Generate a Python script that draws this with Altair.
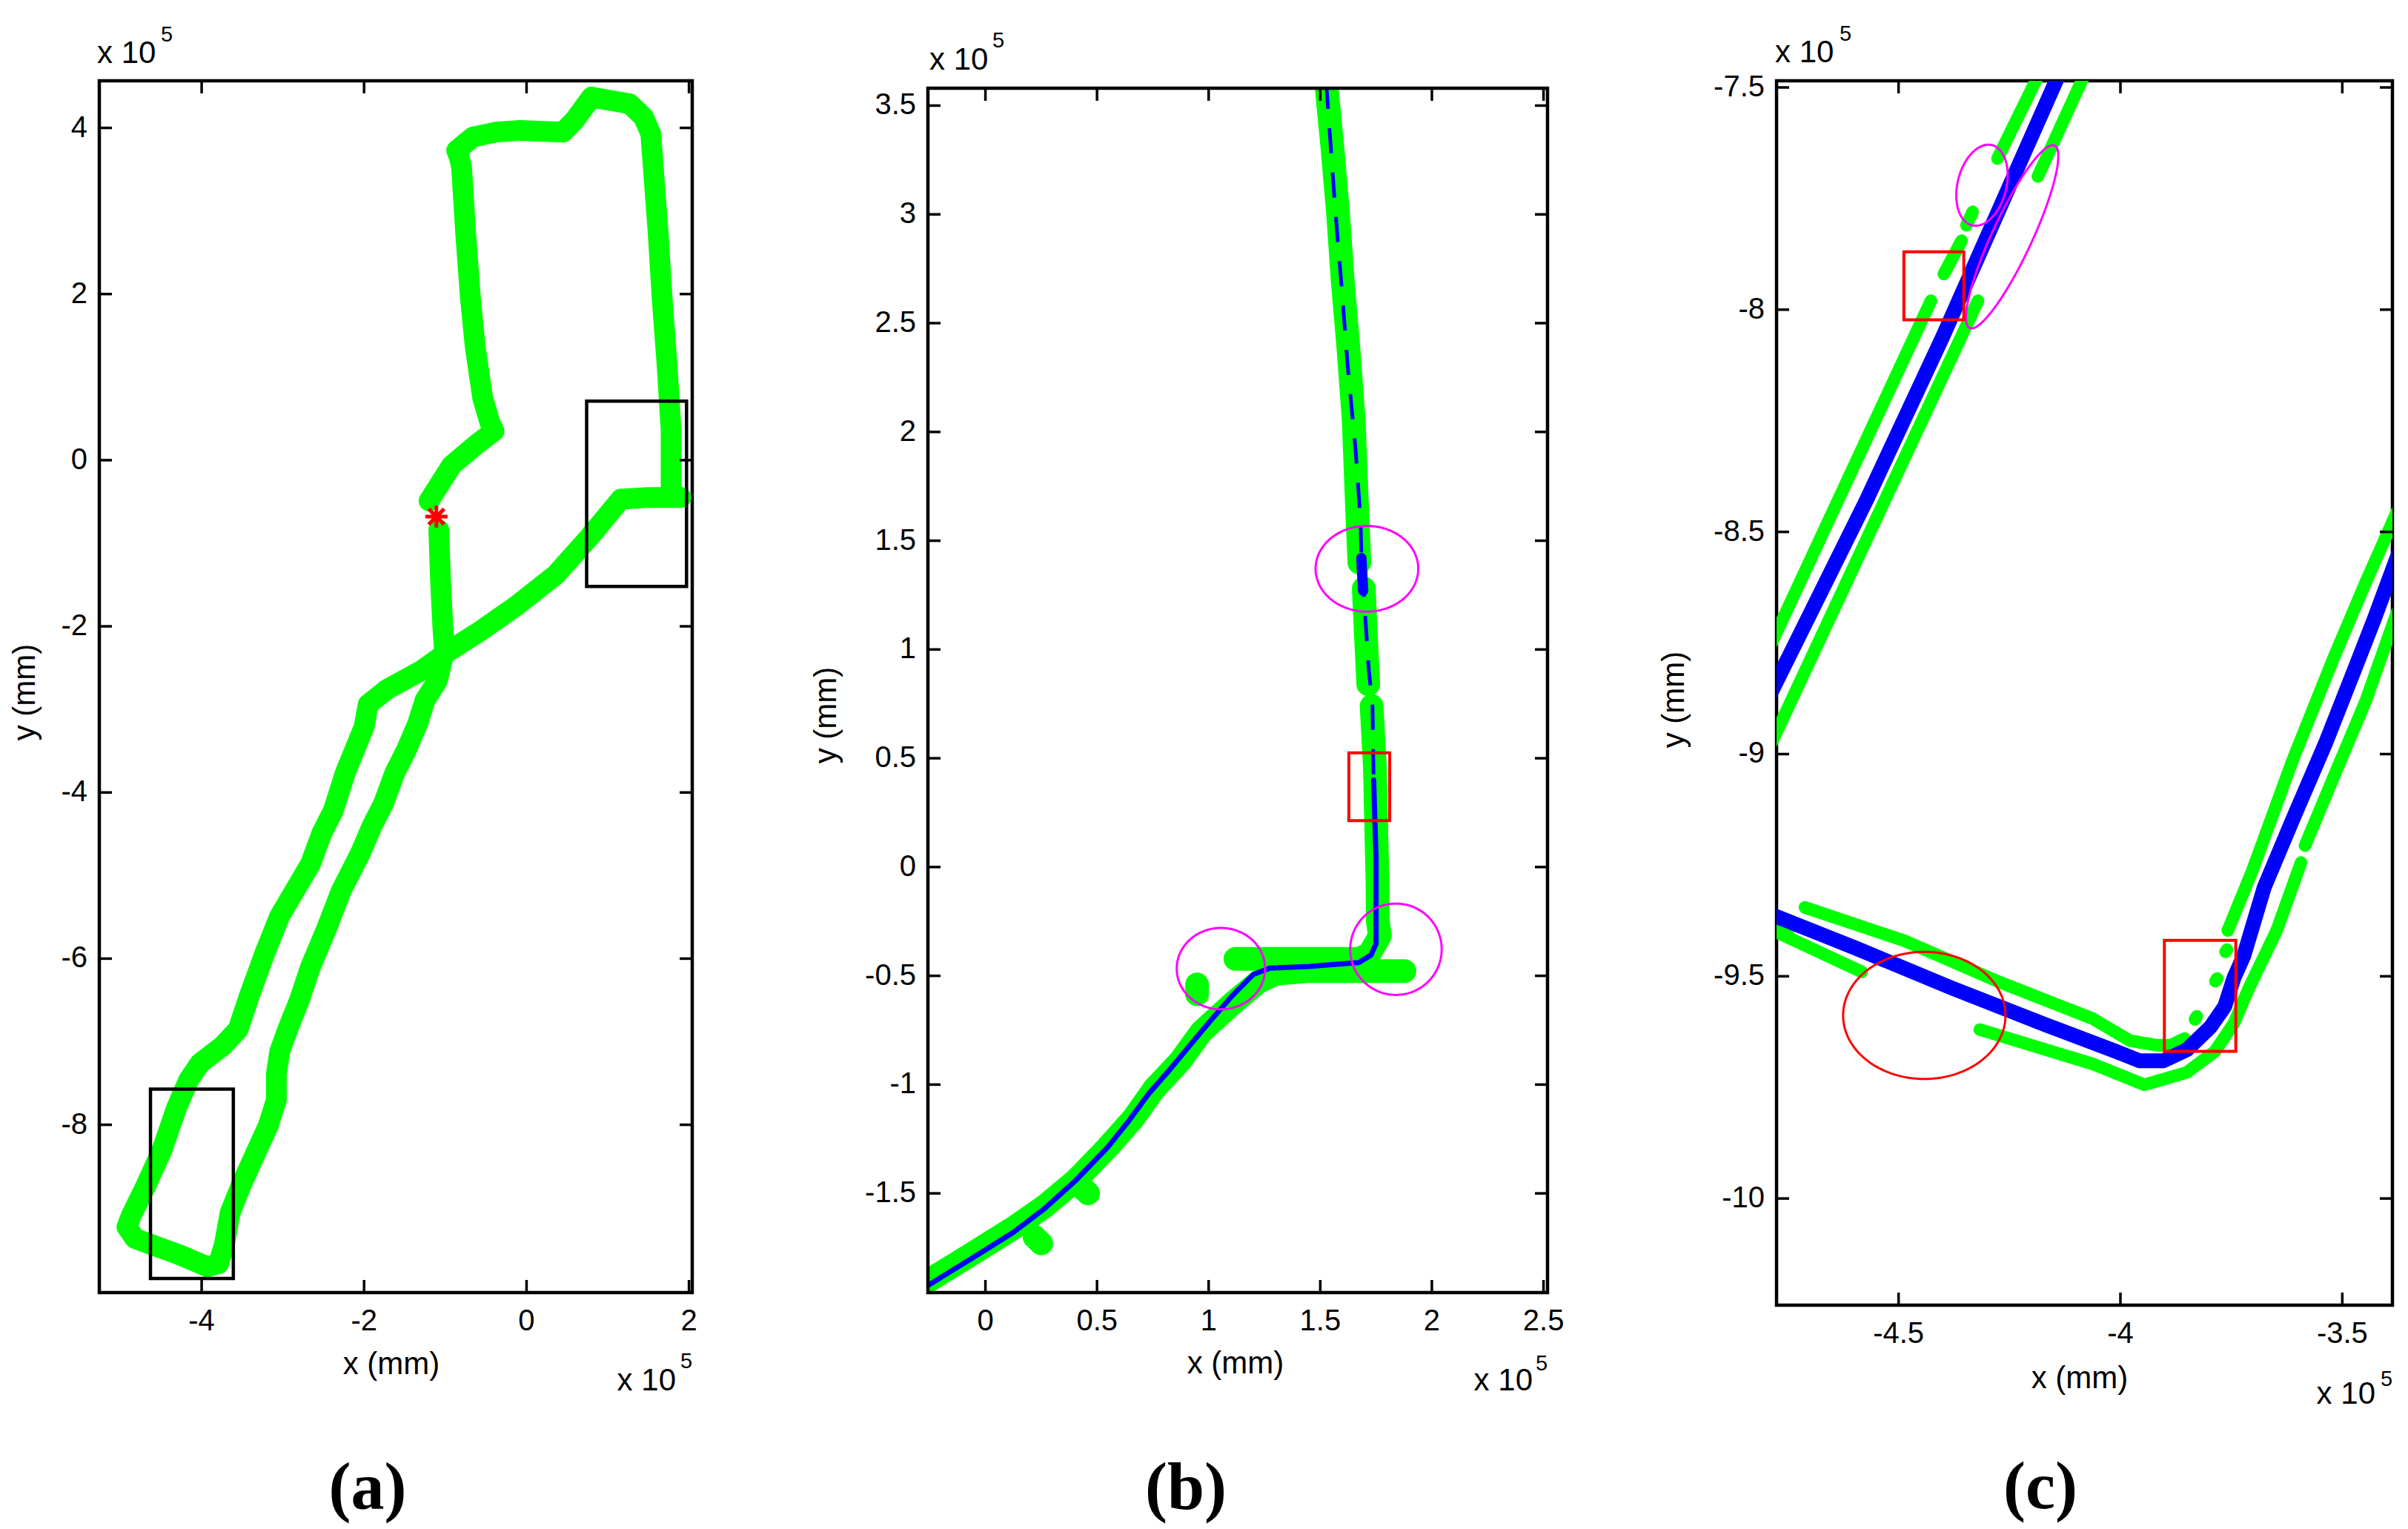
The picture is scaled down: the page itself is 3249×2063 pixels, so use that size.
import numpy as np
import pandas as pd
import altair as alt

# ---------------- values (all positions in units of 10^5 mm) ----------------
# panel (a): whole trajectory
A_PATH = [(-1.08, -0.84), (-1.06, -1.43), (-1.03, -2.02), (-1.01, -2.30), (-1.10, -2.66),
          (-1.25, -2.89), (-1.34, -3.17), (-1.48, -3.49), (-1.62, -3.76), (-1.76, -4.13),
          (-1.90, -4.40), (-2.05, -4.74), (-2.28, -5.18), (-2.47, -5.66), (-2.66, -6.10),
          (-2.80, -6.51), (-2.94, -6.85), (-3.04, -7.12), (-3.08, -7.39), (-3.08, -7.70),
          (-3.18, -8.01), (-3.32, -8.31), (-3.51, -8.72), (-3.65, -9.06), (-3.72, -9.44),
          (-3.79, -9.67), (-3.93, -9.71), (-4.26, -9.57), (-4.54, -9.47), (-4.82, -9.37),
          (-4.92, -9.23), (-4.87, -9.10), (-4.68, -8.72), (-4.49, -8.31), (-4.31, -7.80),
          (-4.16, -7.46), (-4.02, -7.26), (-3.74, -7.05), (-3.55, -6.85), (-3.41, -6.44),
          (-3.22, -5.93), (-3.04, -5.49), (-2.75, -5.01), (-2.66, -4.86), (-2.52, -4.49),
          (-2.38, -4.22), (-2.23, -3.76), (-2.00, -3.21), (-1.95, -2.94), (-1.72, -2.76),
          (-1.29, -2.53), (-0.96, -2.30), (-0.59, -2.07), (-0.12, -1.75), (0.36, -1.38),
          (0.78, -0.92), (1.16, -0.47), (1.50, -0.45), (1.90, -0.45), (1.78, -0.40),
          (1.78, 0.36), (1.73, 1.15), (1.67, 1.94), (1.62, 2.74), (1.56, 3.53),
          (1.53, 3.93), (1.44, 4.13), (1.27, 4.29), (1.03, 4.33), (0.80, 4.37),
          (0.59, 4.09), (0.45, 3.95), (-0.08, 3.97), (-0.37, 3.95), (-0.66, 3.89),
          (-0.86, 3.73), (-0.83, 3.65), (-0.80, 3.53), (-0.75, 2.74), (-0.69, 1.94),
          (-0.63, 1.35), (-0.54, 0.75), (-0.45, 0.45), (-0.40, 0.35), (-0.59, 0.21),
          (-0.92, -0.06), (-1.20, -0.49)]
A_START = [(-1.11, -0.68)]
A_BOX_X1 = [0.74, -4.63]
A_BOX_X2 = [1.97, -3.61]
A_BOX_Y1 = [0.71, -7.57]
A_BOX_Y2 = [-1.52, -9.85]
A_XTICKS = [-4, -2, 0, 2]
A_XLABELS = ["-4", "-2", "0", "2"]
A_YTICKS = [4, 2, 0, -2, -4, -6, -8]
A_YLABELS = ["4", "2", "0", "-2", "-4", "-6", "-8"]
A_XDOM = [-5.26, 2.04]
A_YDOM = [-10.02, 4.567]

# panel (b): zoom on the L-turn
B_GREEN = [
    [(1.527, 3.60), (1.555, 3.30), (1.58, 3.00), (1.60, 2.70), (1.625, 2.40), (1.65, 2.05),
     (1.661, 1.75), (1.675, 1.40)],
    [(1.695, 1.28), (1.705, 1.05), (1.715, 0.84)],
    [(1.73, 0.74), (1.745, 0.45), (1.750, 0.21), (1.756, -0.05), (1.758, -0.25),
     (1.767, -0.316), (1.72, -0.40), (1.673, -0.422), (1.40, -0.422), (1.12, -0.422)],
    [(1.877, -0.478), (1.60, -0.478), (1.451, -0.478), (1.30, -0.49), (1.22, -0.53),
     (1.108, -0.626), (0.967, -0.758), (0.874, -0.89), (0.756, -1.02), (0.663, -1.155),
     (0.546, -1.29), (0.405, -1.44), (0.265, -1.56), (0.124, -1.66), (-0.063, -1.78),
     (-0.30, -1.93)],
    [(0.948, -0.54), (0.948, -0.585)],
    [(0.43, -1.47), (0.46, -1.50)],
    [(0.22, -1.70), (0.25, -1.73)],
]
B_BLUE_DASHED = [(1.527, 3.60), (1.553, 3.22), (1.576, 2.91), (1.60, 2.61), (1.623, 2.30),
                 (1.658, 1.92), (1.68, 1.60), (1.684, 1.44), (1.700, 1.174), (1.717, 0.911),
                 (1.734, 0.735), (1.739, 0.40)]
B_BLUE_THICK = [(1.684, 1.42), (1.692, 1.27)]
B_BLUE_SOLID = [(1.739, 0.40), (1.750, 0.034), (1.750, -0.229), (1.750, -0.352), (1.728, -0.404),
                (1.673, -0.439), (1.451, -0.457), (1.274, -0.465), (1.20, -0.494), (1.108, -0.589),
                (1.014, -0.70), (0.92, -0.815), (0.827, -0.93), (0.733, -1.04), (0.64, -1.17),
                (0.546, -1.29), (0.405, -1.44), (0.265, -1.57), (0.124, -1.68), (-0.063, -1.80),
                (-0.30, -1.95)]
# ellipses: centre x, centre y, semi-axis a, semi-axis b, angle (deg)
B_ELLIPSES = [(1.709, 1.371, 0.23, 0.197, 0), (1.839, -0.378, 0.205, 0.21, 0),
              (1.055, -0.467, 0.198, 0.187, 0)]
B_RECT = [(1.628, 1.811, 0.213, 0.525)]
B_XTICKS = [0, 0.5, 1, 1.5, 2, 2.5]
B_XLABELS = ["0", "0.5", "1", "1.5", "2", "2.5"]
B_YTICKS = [3.5, 3, 2.5, 2, 1.5, 1, 0.5, 0, -0.5, -1, -1.5]
B_YLABELS = ["3.5", "3", "2.5", "2", "1.5", "1", "0.5", "0", "-0.5", "-1", "-1.5"]
B_XDOM = [-0.2891, 2.518]      # view domain (frame starts at -0.2576)
B_YDOM = [-1.956, 3.614]       # view domain (frame top at 3.58)

# panel (c): zoom on the lower-left corner
C_BLUE = [
    [(-4.136, -7.465), (-4.40, -8.06), (-4.573, -8.43), (-4.80, -8.887)],
    [(-4.80, -9.355), (-4.779, -9.364), (-4.593, -9.438), (-4.381, -9.526), (-4.169, -9.609),
     (-4.01, -9.669), (-3.957, -9.69), (-3.903, -9.69), (-3.850, -9.665), (-3.797, -9.614),
     (-3.765, -9.568), (-3.744, -9.503), (-3.722, -9.454), (-3.676, -9.30), (-3.612, -9.148),
     (-3.538, -8.976), (-3.474, -8.814), (-3.429, -8.699), (-3.383, -8.575), (-3.37, -8.54)],
]
C_GREEN = [
    [(-4.181, -7.465), (-4.277, -7.66)],
    [(-4.333, -7.78), (-4.347, -7.81)],
    [(-4.358, -7.845), (-4.398, -7.92)],
    [(-4.427, -7.98), (-4.80, -8.78)],
    [(-4.078, -7.465), (-4.186, -7.70)],
    [(-4.321, -7.98), (-4.798, -9.00)],
    [(-4.78, -9.375), (-4.745, -9.39)],
    [(-4.711, -9.345), (-4.487, -9.42), (-4.275, -9.512), (-4.063, -9.595), (-3.978, -9.645),
     (-3.92, -9.655), (-3.886, -9.655), (-3.855, -9.64)],
    [(-3.832, -9.597), (-3.828, -9.59)],
    [(-3.786, -9.511), (-3.782, -9.505)],
    [(-3.763, -9.445), (-3.76, -9.44)],
    [(-3.758, -9.397), (-3.703, -9.263), (-3.612, -9.014), (-3.52, -8.785), (-3.447, -8.613),
     (-3.383, -8.469), (-3.37, -8.44)],
    [(-4.80, -9.39), (-4.774, -9.401), (-4.583, -9.49)],
    [(-4.317, -9.62), (-4.063, -9.697), (-3.946, -9.744), (-3.85, -9.716), (-3.787, -9.669),
     (-3.744, -9.605), (-3.712, -9.53), (-3.648, -9.397), (-3.593, -9.244)],
    [(-3.584, -9.206), (-3.52, -9.053), (-3.447, -8.88), (-3.383, -8.699), (-3.37, -8.665)],
]
C_MAGENTA = [(-4.312, -7.72, 0.093, 0.055, 76), (-4.244, -7.836, 0.2265, 0.045, 65)]
C_RED_ELLIPSE = [(-4.442, -9.588, 0.183, 0.143, 0)]
C_RECTS = [(-4.488, -4.353, -7.87, -8.023), (-3.901, -3.740, -9.419, -9.669)]
C_XTICKS = [-4.5, -4, -3.5]
C_XLABELS = ["-4.5", "-4", "-3.5"]
C_YTICKS = [-7.5, -8, -8.5, -9, -9.5, -10]
C_YLABELS = ["-7.5", "-8", "-8.5", "-9", "-9.5", "-10"]
C_XDOM = [-4.775, -3.387]
C_YDOM = [-10.24, -7.485]

GREEN = "#00FF00"
BLUE = "#0000FF"
RED = "#FF0000"
MAGENTA = "#FF00FF"
FONT = "Liberation Sans"
ONE = pd.DataFrame({"k": [0]})
TICK_LEN = 17
LABEL_SIZE = 40


def seg_df(segs):
    rows = []
    for i, s in enumerate(segs):
        for j, (x, y) in enumerate(s):
            rows.append({"x": x, "y": y, "seg": i, "o": j})
    return pd.DataFrame(rows)


def ellipse_df(ells):
    rows = []
    t = np.linspace(0, 2 * np.pi, 121)
    for i, (cx, cy, a, b, ang) in enumerate(ells):
        th = np.deg2rad(ang)
        xs = cx + a * np.cos(t) * np.cos(th) - b * np.sin(t) * np.sin(th)
        ys = cy + a * np.cos(t) * np.sin(th) + b * np.sin(t) * np.cos(th)
        for j in range(len(t)):
            rows.append({"x": xs[j], "y": ys[j], "seg": i, "o": j})
    return pd.DataFrame(rows)


def lines(df, xs, ys, color, width, dash=None, cap="round"):
    kw = dict(color=color, strokeWidth=width, clip=True, strokeCap=cap, strokeJoin="round")
    if dash:
        kw["strokeDash"] = dash
    return alt.Chart(df).mark_line(**kw).encode(
        x=alt.X("x:Q", scale=xs, axis=None),
        y=alt.Y("y:Q", scale=ys, axis=None),
        detail="seg:N",
        order="o:Q",
    )


def rects(r, xs, ys, color, width):
    df = pd.DataFrame(r, columns=["x1", "x2", "y1", "y2"])
    return alt.Chart(df).mark_rect(fillOpacity=0, stroke=color, strokeWidth=width).encode(
        x=alt.X("x1:Q", scale=xs, axis=None), x2="x2:Q",
        y=alt.Y("y1:Q", scale=ys, axis=None), y2="y2:Q",
    )


def ticks(xt, xl, yt, yl, xs, ys, W, H, fx=0.0, fy=0.0):
    """Inward ticks on all four sides plus tick labels; (fx, fy) = frame's top-left in the view."""
    dx = pd.DataFrame({"v": xt, "lab": xl})
    dy = pd.DataFrame({"v": yt, "lab": yl})
    rx = alt.Chart(dx).mark_rule(color="black", strokeWidth=3.5)
    ry = alt.Chart(dy).mark_rule(color="black", strokeWidth=3.5)
    X = alt.X("v:Q", scale=xs, axis=None)
    Y = alt.Y("v:Q", scale=ys, axis=None)
    return [
        rx.encode(x=X, y=alt.value(H), y2=alt.value(H - TICK_LEN)),
        rx.encode(x=X, y=alt.value(fy), y2=alt.value(fy + TICK_LEN)),
        ry.encode(y=Y, x=alt.value(fx), x2=alt.value(fx + TICK_LEN)),
        ry.encode(y=Y, x=alt.value(W), x2=alt.value(W - TICK_LEN)),
        alt.Chart(dx).mark_text(font=FONT, fontSize=LABEL_SIZE, align="center", baseline="top",
                                color="black").encode(x=X, y=alt.value(H + 19), text="lab:N"),
        alt.Chart(dy).mark_text(font=FONT, fontSize=LABEL_SIZE, align="right", baseline="middle",
                                color="black").encode(y=Y, x=alt.value(fx - 16), text="lab:N"),
    ]


def txt(text, x, y, size=42, align="left", baseline="alphabetic", angle=0, font=FONT, weight="normal"):
    return alt.Chart(ONE).mark_text(text=text, fontSize=size, font=font, fontWeight=weight,
                                    align=align, baseline=baseline, angle=angle, color="black").encode(
        x=alt.value(x), y=alt.value(y))


def decorations(ox, oy, ytx, yty, xtx, xty, br, tl, lab, lab_x, lab_y):
    """All positions relative to the frame's top-left corner (ox, oy) inside the view."""
    return [
        txt("y (mm)", ox + ytx, oy + yty, align="center", baseline="middle", angle=270),
        txt("x (mm)", ox + xtx, oy + xty, align="center", baseline="middle"),
        txt("x 10", ox + br[0], oy + br[1], align="right"),
        txt("5", ox + br[2], oy + br[3], size=29),
        txt("x 10", ox + tl[0], oy + tl[1]),
        txt("5", ox + tl[2], oy + tl[3], size=29),
        txt(lab, ox + lab_x, oy + lab_y, size=90, align="center", font="Liberation Serif", weight="bold"),
    ]


# ---------------- panel (a) ----------------
WA, HA = 800, 1635
xa = alt.Scale(domain=A_XDOM, nice=False, zero=False)
ya = alt.Scale(domain=A_YDOM, nice=False, zero=False)
a_path = seg_df([A_PATH])
a_layers = [
    lines(a_path, xa, ya, BLUE, 8),
    lines(a_path, xa, ya, GREEN, 28),
    rects(list(zip(A_BOX_X1, A_BOX_X2, A_BOX_Y1, A_BOX_Y2)), xa, ya, "black", 4.5),
    alt.Chart(pd.DataFrame(A_START, columns=["x", "y"])).mark_point(
        shape="M-1,0L1,0M0,-1L0,1M-0.7,-0.7L0.7,0.7M-0.7,0.7L0.7,-0.7",
        size=900, color=RED, strokeWidth=5, filled=False, opacity=1).encode(
        x=alt.X("x:Q", scale=xa, axis=None), y=alt.Y("y:Q", scale=ya, axis=None)),
] + ticks(A_XTICKS, A_XLABELS, A_YTICKS, A_YLABELS, xa, ya, WA, HA) + decorations(
    0, 0, -100, 825, 394, 1732, (778, 1767, 784, 1737), (-3, -24, 83, -53), "(a)", 362, 1927)
panel_a = alt.layer(*a_layers).properties(width=WA, height=HA)

# ---------------- panel (b) ----------------
# the view starts 9.5 px left of and 10 px above the frame of (b)
BFX, BFY = 9.5, 10
WB, HB = 845.5, 1635
xb = alt.Scale(domain=B_XDOM, nice=False, zero=False)
yb = alt.Scale(domain=B_YDOM, nice=False, zero=False)
mask = alt.Chart(ONE).mark_rect(color="white")
b_layers = [
    lines(seg_df(B_GREEN), xb, yb, GREEN, 32),
    lines(seg_df([B_BLUE_DASHED]), xb, yb, BLUE, 5, dash=[34, 26], cap="butt"),
    lines(seg_df([B_BLUE_THICK]), xb, yb, BLUE, 14),
    lines(seg_df([B_BLUE_SOLID]), xb, yb, BLUE, 7),
    lines(ellipse_df(B_ELLIPSES), xb, yb, MAGENTA, 3),
    rects(B_RECT, xb, yb, RED, 4),
    mask.encode(x=alt.value(-2), x2=alt.value(BFX), y=alt.value(-2), y2=alt.value(HB + 2)),
    mask.encode(x=alt.value(-2), x2=alt.value(WB + 2), y=alt.value(-2), y2=alt.value(BFY)),
    alt.Chart(ONE).mark_rect(fillOpacity=0, stroke="black", strokeWidth=4.5).encode(
        x=alt.value(BFX), x2=alt.value(WB), y=alt.value(BFY), y2=alt.value(HB)),
] + ticks(B_XTICKS, B_XLABELS, B_YTICKS, B_YLABELS, xb, yb, WB, HB, BFX, BFY) + decorations(
    BFX, BFY, -137, 846, 415, 1721, (816, 1757, 820, 1730), (2, -25, 87, -55), "(b)", 348, 1917)
panel_b = alt.layer(*b_layers).properties(
    width=WB, height=HB, view=alt.ViewBackground(stroke="transparent"))

# ---------------- panel (c) ----------------
WC, HC = 831, 1652
xc = alt.Scale(domain=C_XDOM, nice=False, zero=False)
yc = alt.Scale(domain=C_YDOM, nice=False, zero=False)
c_layers = [
    lines(seg_df(C_GREEN), xc, yc, GREEN, 17),
    lines(seg_df(C_BLUE), xc, yc, BLUE, 20),
    lines(ellipse_df(C_MAGENTA), xc, yc, MAGENTA, 3),
    lines(ellipse_df(C_RED_ELLIPSE), xc, yc, RED, 3),
    rects(C_RECTS, xc, yc, RED, 4),
] + ticks(C_XTICKS, C_XLABELS, C_YTICKS, C_YLABELS, xc, yc, WC, HC) + decorations(
    0, 0, -138, 835, 409, 1751, (808, 1785, 815, 1761), (-2, -25, 85, -54), "(c)", 356, 1926)
panel_c = alt.layer(*c_layers).properties(width=WC, height=HC)

chart = alt.hconcat(panel_a, panel_b, panel_c, spacing=308.5, bounds="flush").properties(
    padding={"left": 2, "top": 21, "right": 5, "bottom": 2}
).configure_view(stroke="black", strokeWidth=4.5)

chart.save("out.html", embed_options={"renderer": "svg", "actions": False})
